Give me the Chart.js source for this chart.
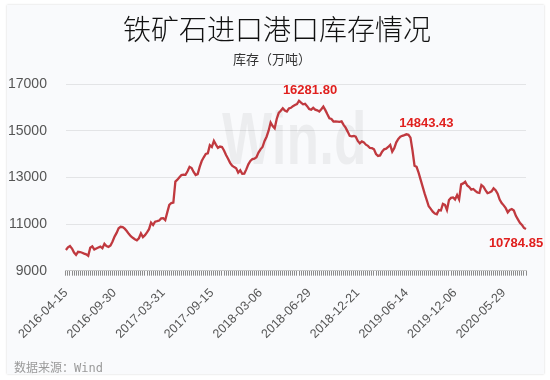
<!DOCTYPE html>
<html>
<head>
<meta charset="utf-8">
<script src="https://cdn.jsdelivr.net/npm/chart.js@4/dist/chart.umd.min.js"></script>
<style>
    html, body { margin: 0; padding: 0; background: #ffffff; }
    #card {
        position: absolute; left: 7px; top: 5px; width: 537px; height: 369px;
        background: #f9fafc; box-shadow: 0 0 2px rgba(0, 0, 0, 0.18);
    }
    #chart { position: absolute; left: 0; top: 0; }
</style>
</head>
<body>
<div id="card"></div>
<canvas id="chart" width="550" height="380"></canvas>
<script>
// 铁矿石进口港口库存（万吨），周度
const stockValues = [
    9890, 10000, 10060, 9950, 9780, 9680, 9810, 9800, 9770, 9730, 9700, 9640,
    9980, 10040, 9910, 9950, 9990, 10030, 9960, 10150, 10060, 10020, 10080, 10250,
    10460, 10620, 10820, 10880, 10870, 10800, 10700, 10580, 10480, 10410, 10350, 10300,
    10390, 10600, 10440, 10520, 10640, 10780, 11060, 10960, 11100, 11120, 11150, 11240,
    11250, 11170, 11500, 11820, 11900, 11920, 12820, 12900, 13000, 13100, 13120, 13110,
    13260, 13450, 13400, 13230, 13100, 13140, 13450, 13700, 13860, 14000, 14030, 14380,
    14300, 14560, 14400, 14260, 14320, 14300, 14150, 13960, 13800, 13620, 13500, 13440,
    13390, 13200, 13300, 13150, 13160, 13340, 13560, 13700, 13780, 13800, 13860, 14060,
    14200, 14300, 14560, 14740, 15000, 15350, 15200, 15100, 15500, 15760, 15850, 15960,
    15860, 15820, 15950, 15980, 16050, 16100, 16140, 16281.80, 16200, 16130, 16150, 16050,
    15930, 15900, 15980, 15900, 15870, 15820, 15920, 16030, 15880, 15700, 15530, 15500,
    15390, 15400, 15390, 15380, 15400, 15250, 15130, 14960, 14780, 14760, 14770, 14740,
    14560, 14460, 14540, 14500, 14400, 14350, 14260, 14250, 14200, 14000, 13920, 13940,
    14100, 14200, 14230, 14300, 14390, 14100, 14250, 14500, 14650, 14740, 14780, 14810,
    14843.43, 14820, 14700, 14150, 13500, 13450, 13200, 12900, 12600, 12300, 12030, 11760,
    11650, 11530, 11450, 11420, 11600, 11580, 11860, 11820, 11600, 12030, 12120, 12140,
    12050, 12240, 12050, 12700, 12740, 12810, 12650, 12580, 12470, 12500, 12420, 12350,
    12330, 12670, 12600, 12450, 12320, 12350, 12400, 12530, 12450, 12300, 12050, 11900,
    11800, 11680, 11500, 11600, 11640, 11580, 11350, 11200, 11050, 10960, 10830, 10784.85
];

// x-axis labels shown every 24 points
const tickLabels = [
    "2016-04-15", "2016-09-30", "2017-03-31", "2017-09-15", "2018-03-06",
    "2018-06-29", "2018-12-21", "2019-06-14", "2019-12-06", "2020-05-29"
];
const labelEvery = 24;

const yTicks = [9000, 11000, 13000, 15000, 17000];

// points that get a red value label
const markedIndex = [115, 168, 227];

const titleText = "铁矿石进口港口库存情况";
const subtitleText = "库存（万吨）";
const sourceText = "数据来源：Wind";

const xLabels = stockValues.map((v, i) =>
    i % labelEvery === 0 && tickLabels[i / labelEvery] ? tickLabels[i / labelEvery] : "");

const cjk = "'Noto Sans CJK SC', 'Noto Sans', sans-serif";
const num = "'Liberation Sans', Arial, sans-serif";

const extras = {
    id: "extras",
    beforeDatasetsDraw(chart) {
        // faint Wind watermark
        const ctx = chart.ctx;
        ctx.save();
        ctx.fillStyle = "rgba(0, 0, 0, 0.05)";
        ctx.font = "bold 74px " + num;
        ctx.textBaseline = "alphabetic";
        ctx.translate(222, 164);
        ctx.scale(0.72, 1);
        ctx.fillText("Win.d", 0, 0);
        ctx.restore();
    },
    afterDatasetsDraw(chart) {
        const ctx = chart.ctx;
        const pts = chart.getDatasetMeta(0).data;
        const offsets = [[11, -10], [20, -11], [-10, 14]];
        ctx.save();
        ctx.fillStyle = "#e0201e";
        ctx.font = "bold 13px " + num;
        ctx.textAlign = "center";
        ctx.textBaseline = "middle";
        markedIndex.forEach((idx, k) => {
            const p = pts[idx];
            ctx.fillText(stockValues[idx].toFixed(2), p.x + offsets[k][0], p.y + offsets[k][1]);
        });
        ctx.restore();
    },
    afterDraw(chart) {
        const ctx = chart.ctx;
        ctx.save();
        ctx.textAlign = "center";
        ctx.textBaseline = "middle";
        ctx.fillStyle = "#111";
        ctx.font = "300 28px " + cjk;
        ctx.fillText(titleText, 277, 29);
        ctx.fillStyle = "#333";
        ctx.font = "13px " + cjk;
        ctx.fillText(subtitleText, 272, 59);

        ctx.textAlign = "left";
        ctx.fillStyle = "#9a9a9a";
        ctx.font = "12px 'DejaVu Sans Mono', 'Noto Sans CJK SC', monospace";
        ctx.fillText(sourceText, 14, 369);
        ctx.restore();
    }
};

new Chart(document.getElementById("chart"), {
    type: "line",
    data: {
        labels: xLabels,
        datasets: [{
            label: "库存",
            data: stockValues,
            borderColor: "#c0393f",
            borderWidth: 2.3,
            pointRadius: 0,
            tension: 0,
            fill: false
        }]
    },
    options: {
        responsive: false,
        animation: false,
        // title, subtitle and source are drawn by the plugin, so the padding keeps room for them
        layout: { padding: { left: -11, right: 24, top: 84, bottom: 28.5 } },
        plugins: {
            legend: { display: false },
            tooltip: { enabled: false }
        },
        scales: {
            x: {
                grid: {
                    drawOnChartArea: false, drawTicks: true, tickLength: 5,
                    color: "#8c8c8c", tickColor: "#8c8c8c", tickWidth: 1
                },
                border: { display: true, color: "#c8c8c8" },
                ticks: {
                    autoSkip: false,
                    maxRotation: 45,
                    minRotation: 45,
                    padding: 10,
                    color: "#555",
                    font: { family: num, size: 12.5 }
                }
            },
            y: {
                min: 9000,
                max: 17000,
                afterBuildTicks(axis) { axis.ticks = yTicks.map(v => ({ value: v })); },
                grid: { color: "#e3e4e6", drawTicks: false },
                border: { display: false },
                ticks: {
                    padding: 19,
                    color: "#555",
                    font: { family: num, size: 14 },
                    callback: v => String(v)
                }
            }
        }
    },
    plugins: [extras]
});
</script>
</body>
</html>
